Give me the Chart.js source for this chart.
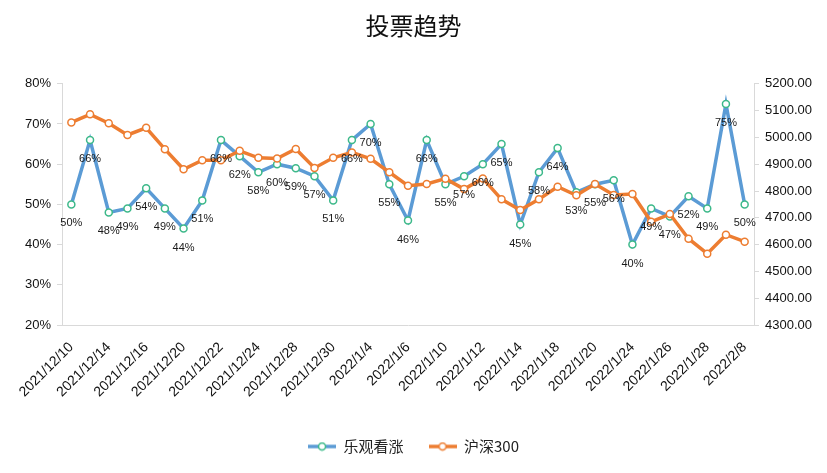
<!DOCTYPE html>
<html>
<head>
<meta charset="utf-8">
<script src="https://cdn.jsdelivr.net/npm/chart.js@4"></script>
<style>
html,body{margin:0;padding:0;background:#fff;}
#wrap{width:827px;height:473px;}
</style>
</head>
<body>
<div id="wrap"><canvas id="c" width="827" height="473"></canvas></div>
<script>
const categories = ["2021/12/10","2021/12/13","2021/12/14","2021/12/15","2021/12/16","2021/12/17","2021/12/20","2021/12/21","2021/12/22","2021/12/23","2021/12/24","2021/12/27","2021/12/28","2021/12/29","2021/12/30","2021/12/31","2022/1/4","2022/1/5","2022/1/6","2022/1/7","2022/1/10","2022/1/11","2022/1/12","2022/1/13","2022/1/14","2022/1/17","2022/1/18","2022/1/19","2022/1/20","2022/1/21","2022/1/24","2022/1/25","2022/1/26","2022/1/27","2022/1/28","2022/2/7","2022/2/8"];
const bullishPct = [50,66,48,49,54,49,44,51,66,62,58,60,59,57,51,66,70,55,46,66,55,57,60,65,45,58,64,53,55,56,40,49,47,52,49,75,50];
const hs300 = [5056,5086,5053,5009,5036,4956,4881,4915,4915,4950,4924,4921,4957,4886,4924,4944,4920,4870,4820,4826,4846,4807,4847,4769,4729,4769,4816,4784,4826,4785,4789,4685,4714,4622,4566,4637,4611];
const seriesNames = ["乐观看涨","沪深300"];
const leftTicks = [20,30,40,50,60,70,80];
const rightTicks = [4300,4400,4500,4600,4700,4800,4900,5000,5100,5200];

const BLUE = '#5B9BD5', GREEN = '#3DB98A', ORANGE = '#ED7D31';
const FONT = "'Liberation Sans', 'Noto Sans CJK SC', sans-serif";

function legendIcon(lineColor, ptColor){
  const cv = document.createElement('canvas');
  cv.width = 28; cv.height = 10;
  const g = cv.getContext('2d');
  g.strokeStyle = lineColor; g.lineWidth = 3.5;
  g.beginPath(); g.moveTo(0,5); g.lineTo(28,5); g.stroke();
  g.fillStyle = '#fff'; g.strokeStyle = ptColor; g.lineWidth = 1.5;
  g.beginPath(); g.arc(14,5,3.5,0,Math.PI*2); g.fill(); g.stroke();
  return cv;
}
const icons = [legendIcon(BLUE, GREEN), legendIcon(ORANGE, ORANGE)];

const labelPlugin = {
  id: 'pctLabels',
  afterDatasetsDraw(chart){
    const meta = chart.getDatasetMeta(0);
    const ctx = chart.ctx;
    ctx.save();
    ctx.font = "11px " + FONT;
    ctx.fillStyle = '#1a1a1a';
    ctx.textAlign = 'center';
    ctx.textBaseline = 'middle';
    meta.data.forEach((el, i) => {
      ctx.fillText(bullishPct[i] + '%', el.x, el.y + 19);
    });
    ctx.restore();
  }
};

new Chart(document.getElementById('c'), {
  type: 'line',
  data: {
    labels: categories,
    datasets: [
      {
        label: seriesNames[0], data: bullishPct, yAxisID: 'y',
        borderColor: BLUE, borderWidth: 3.5, backgroundColor: BLUE,
        pointRadius: 3.5, pointBorderWidth: 1.5, pointBorderColor: GREEN,
        pointBackgroundColor: '#fff', tension: 0, order: 2,
        pointStyle: 'circle'
      },
      {
        label: seriesNames[1], data: hs300, yAxisID: 'y1',
        borderColor: ORANGE, borderWidth: 3.5, backgroundColor: ORANGE,
        pointRadius: 3.5, pointBorderWidth: 1.5, pointBorderColor: ORANGE,
        pointBackgroundColor: '#fff', tension: 0, order: 1,
        pointStyle: 'circle'
      }
    ]
  },
  options: {
    responsive: false,
    animation: false,
    devicePixelRatio: 1,
    layout: { padding: { left: 0, right: 0, top: 0, bottom: 9 } },
    plugins: {
      tooltip: { enabled: false },
      title: {
        display: true, text: '投票趋势', color: '#111',
        font: { family: "'Noto Sans CJK SC', sans-serif", size: 24, weight: 'normal', lineHeight: 1.2 },
        padding: { top: 11, bottom: 44 }
      },
      legend: {
        position: 'bottom',
        labels: {
          usePointStyle: true, pointStyleWidth: 28, padding: 25,
          color: '#222',
          font: { family: "'Noto Sans CJK SC', 'Liberation Sans', sans-serif", size: 15 },
          sort: (a, b) => a.datasetIndex - b.datasetIndex,
          generateLabels(chart){
            return chart.data.datasets.map((ds, i) => ({
              text: ds.label, datasetIndex: i, pointStyle: icons[i],
              fillStyle: ds.borderColor, strokeStyle: ds.borderColor,
              lineWidth: 0, hidden: false, fontColor: '#222'
            }));
          }
        }
      }
    },
    scales: {
      x: {
        type: 'category', offset: true,
        grid: { display: false },
        border: { display: true, color: '#d9d9d9', width: 1 },
        ticks: {
          autoSkip: false, minRotation: 45, maxRotation: 45, padding: 6,
          color: '#111', font: { family: FONT, size: 14 },
          callback(v, i){ return i % 2 === 0 ? categories[i] : ''; }
        },
        afterFit(s){ s.height = 89; }
      },
      y: {
        position: 'left', min: 20, max: 80,
        afterBuildTicks(s){ s.ticks = leftTicks.map(v => ({ value: v })); },
        grid: { drawOnChartArea: false, drawTicks: true, tickLength: 5, color: '#d9d9d9' },
        border: { display: true, color: '#d9d9d9', width: 1 },
        ticks: {
          padding: 6, color: '#111', font: { family: FONT, size: 13 },
          callback(v){ return v + '%'; }
        },
        afterFit(s){ s.width = 62; }
      },
      y1: {
        position: 'right', min: 4300, max: 5200,
        afterBuildTicks(s){ s.ticks = rightTicks.map(v => ({ value: v })); },
        grid: { drawOnChartArea: false, drawTicks: true, tickLength: 5, color: '#d9d9d9' },
        border: { display: true, color: '#d9d9d9', width: 1 },
        ticks: {
          padding: 6, color: '#111', font: { family: FONT, size: 13 },
          callback(v){ return Number(v).toFixed(2); }
        },
        afterFit(s){ s.width = 73; }
      }
    }
  },
  plugins: [labelPlugin]
});
</script>
</body>
</html>
